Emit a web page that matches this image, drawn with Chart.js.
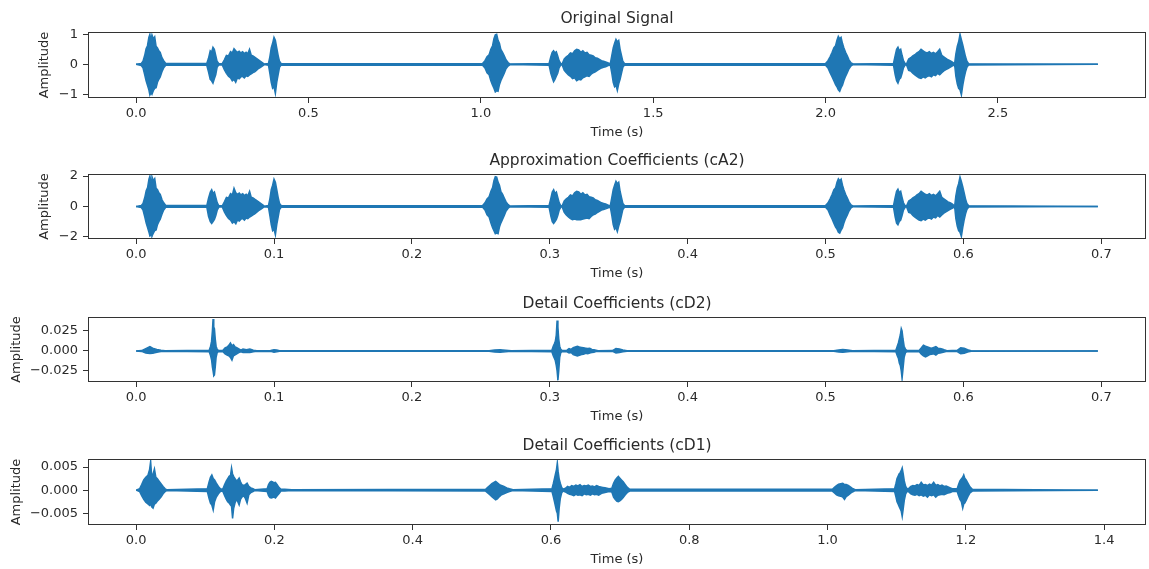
<!DOCTYPE html>
<html>
<head>
<meta charset="utf-8">
<title>Wavelet decomposition</title>
<script src="https://cdn.jsdelivr.net/npm/chart.js@4.4.0/dist/chart.umd.min.js"></script>
<style>
  body { margin: 0; background: #fff; }
  .panel { position: absolute; left: 0; width: 1149px; }
</style>
</head>
<body>
<div class="panel" style="top:0;height:142px"><canvas id="origChart"></canvas></div>
<div class="panel" style="top:142px;height:141px"><canvas id="ca2Chart"></canvas></div>
<div class="panel" style="top:285px;height:141px"><canvas id="cd2Chart"></canvas></div>
<div class="panel" style="top:427px;height:142px"><canvas id="cd1Chart"></canvas></div>
<script>
// Envelope of each signal: time (s), upper peak and lower peak per sample
const origTime = [
  0,
  0.015, 0.020, 0.025, 0.029, 0.033, 0.037, 0.040, 0.043, 0.046, 0.050, 0.054, 0.058, 0.062, 0.066, 0.070, 0.075, 0.080, 0.086,
  0.205, 0.210, 0.215, 0.219, 0.223, 0.227, 0.231, 0.235, 0.240,
  0.250, 0.256, 0.262, 0.268, 0.274, 0.279, 0.284, 0.289, 0.294, 0.299, 0.304, 0.309, 0.314, 0.319, 0.324, 0.329, 0.334, 0.339, 0.344, 0.349, 0.355, 0.361, 0.367, 0.372,
  0.384, 0.388, 0.392, 0.396, 0.400, 0.404, 0.408, 0.412, 0.416, 0.421,
  1.005, 1.012, 1.018, 1.024, 1.029, 1.034, 1.038, 1.042, 1.046, 1.050, 1.054, 1.058, 1.063, 1.068, 1.073, 1.079, 1.085,
  1.198, 1.203, 1.207, 1.211, 1.215, 1.219, 1.223, 1.227, 1.232,
  1.236, 1.242, 1.248, 1.254, 1.260, 1.266, 1.272, 1.278, 1.284, 1.290, 1.296, 1.302, 1.308, 1.314, 1.320, 1.326, 1.332, 1.338, 1.344, 1.350, 1.356, 1.362, 1.368, 1.374,
  1.376, 1.380, 1.384, 1.388, 1.392, 1.396, 1.400, 1.404, 1.408, 1.412, 1.417,
  2.000, 2.007, 2.013, 2.019, 2.024, 2.029, 2.033, 2.037, 2.041, 2.045, 2.049, 2.053, 2.058, 2.063, 2.068, 2.074, 2.080,
  2.197, 2.202, 2.206, 2.210, 2.214, 2.218, 2.222, 2.226, 2.231,
  2.235, 2.241, 2.247, 2.253, 2.259, 2.265, 2.271, 2.277, 2.283, 2.289, 2.295, 2.301, 2.307, 2.313, 2.319, 2.325, 2.331, 2.337, 2.343, 2.349, 2.355, 2.361, 2.367, 2.373,
  2.375, 2.378, 2.382, 2.386, 2.390, 2.394, 2.398, 2.402, 2.406, 2.410, 2.415,
  2.790
];
const origUpper = [
  0,
  0.03, 0.10, 0.30, 0.52, 0.62, 0.90, 1.00, 0.80, 0.98, 0.85, 0.92, 0.60, 0.55, 0.45, 0.40, 0.22, 0.12, 0.03,
  0.03, 0.20, 0.45, 0.40, 0.57, 0.50, 0.30, 0.10, 0.02,
  0.02, 0.15, 0.30, 0.28, 0.42, 0.38, 0.52, 0.45, 0.40, 0.44, 0.38, 0.42, 0.36, 0.40, 0.35, 0.50, 0.30, 0.28, 0.24, 0.20, 0.15, 0.10, 0.05, 0.01,
  0.03, 0.25, 0.55, 0.70, 0.90, 0.80, 0.55, 0.30, 0.10, 0.02,
  0.03, 0.12, 0.25, 0.32, 0.50, 0.62, 0.85, 0.98, 1.00, 0.80, 0.70, 0.50, 0.40, 0.28, 0.15, 0.06, 0.01,
  0.03, 0.25, 0.40, 0.45, 0.38, 0.42, 0.28, 0.12, 0.02,
  0.02, 0.18, 0.25, 0.30, 0.38, 0.35, 0.45, 0.50, 0.48, 0.40, 0.45, 0.38, 0.40, 0.32, 0.30, 0.28, 0.22, 0.20, 0.16, 0.12, 0.10, 0.08, 0.05, 0.02,
  0.05, 0.30, 0.55, 0.70, 0.83, 0.75, 0.80, 0.50, 0.30, 0.10, 0.02,
  0.03, 0.12, 0.25, 0.40, 0.55, 0.62, 0.80, 0.93, 0.85, 0.90, 0.70, 0.55, 0.40, 0.28, 0.15, 0.05, 0.01,
  0.03, 0.30, 0.50, 0.57, 0.45, 0.50, 0.30, 0.12, 0.02,
  0.02, 0.18, 0.22, 0.28, 0.32, 0.38, 0.42, 0.50, 0.45, 0.40, 0.38, 0.42, 0.36, 0.40, 0.35, 0.42, 0.50, 0.30, 0.25, 0.20, 0.15, 0.12, 0.08, 0.03,
  0.08, 0.35, 0.60, 0.75, 1.00, 0.82, 0.65, 0.45, 0.25, 0.10, 0.02,
  0
];
const origLower = [
  0,
  -0.04, -0.12, -0.35, -0.55, -0.70, -0.85, -1.02, -0.95, -1.00, -0.88, -0.80, -0.78, -0.60, -0.50, -0.42, -0.25, -0.12, -0.03,
  -0.03, -0.25, -0.50, -0.55, -0.63, -0.48, -0.35, -0.10, -0.02,
  -0.02, -0.18, -0.30, -0.40, -0.45, -0.55, -0.50, -0.60, -0.45, -0.48, -0.42, -0.40, -0.45, -0.38, -0.40, -0.35, -0.32, -0.28, -0.25, -0.20, -0.14, -0.10, -0.05, -0.01,
  -0.03, -0.30, -0.60, -0.80, -0.75, -0.97, -0.60, -0.35, -0.10, -0.02,
  -0.03, -0.12, -0.28, -0.35, -0.55, -0.70, -0.80, -0.92, -0.88, -0.90, -0.68, -0.55, -0.42, -0.30, -0.15, -0.06, -0.01,
  -0.03, -0.30, -0.45, -0.58, -0.50, -0.40, -0.30, -0.12, -0.02,
  -0.02, -0.20, -0.28, -0.35, -0.40, -0.48, -0.45, -0.55, -0.50, -0.52, -0.45, -0.42, -0.38, -0.40, -0.33, -0.28, -0.25, -0.20, -0.16, -0.12, -0.10, -0.08, -0.05, -0.02,
  -0.05, -0.30, -0.60, -0.75, -0.70, -0.87, -0.65, -0.50, -0.30, -0.10, -0.02,
  -0.03, -0.12, -0.28, -0.42, -0.55, -0.68, -0.75, -0.85, -0.90, -0.78, -0.70, -0.55, -0.40, -0.28, -0.15, -0.05, -0.01,
  -0.03, -0.35, -0.55, -0.63, -0.50, -0.45, -0.30, -0.12, -0.02,
  -0.02, -0.20, -0.22, -0.30, -0.35, -0.40, -0.45, -0.47, -0.42, -0.45, -0.40, -0.38, -0.42, -0.35, -0.38, -0.30, -0.35, -0.28, -0.22, -0.18, -0.14, -0.10, -0.06, -0.02,
  -0.08, -0.40, -0.65, -0.80, -0.85, -1.02, -0.70, -0.45, -0.25, -0.10, -0.02,
  0
];

const ca2Time = [
  0,
  0.0038, 0.0050, 0.0063, 0.0073, 0.0083, 0.0093, 0.0100, 0.0108, 0.0115, 0.0125, 0.0135, 0.0145, 0.0155, 0.0165, 0.0175, 0.0188, 0.0200, 0.0215,
  0.0513, 0.0525, 0.0538, 0.0548, 0.0558, 0.0568, 0.0578, 0.0588, 0.0600,
  0.0625, 0.0640, 0.0655, 0.0670, 0.0685, 0.0698, 0.0710, 0.0723, 0.0735, 0.0748, 0.0760, 0.0773, 0.0785, 0.0798, 0.0810, 0.0823, 0.0835, 0.0848, 0.0860, 0.0873, 0.0888, 0.0903, 0.0918, 0.0930,
  0.0960, 0.0970, 0.0980, 0.0990, 0.1000, 0.1010, 0.1020, 0.1030, 0.1040, 0.1053,
  0.2513, 0.2530, 0.2545, 0.2560, 0.2573, 0.2585, 0.2595, 0.2605, 0.2615, 0.2625, 0.2635, 0.2645, 0.2658, 0.2670, 0.2683, 0.2698, 0.2713,
  0.2995, 0.3008, 0.3018, 0.3028, 0.3038, 0.3048, 0.3058, 0.3068, 0.3080,
  0.3090, 0.3105, 0.3120, 0.3135, 0.3150, 0.3165, 0.3180, 0.3195, 0.3210, 0.3225, 0.3240, 0.3255, 0.3270, 0.3285, 0.3300, 0.3315, 0.3330, 0.3345, 0.3360, 0.3375, 0.3390, 0.3405, 0.3420, 0.3435,
  0.3440, 0.3450, 0.3460, 0.3470, 0.3480, 0.3490, 0.3500, 0.3510, 0.3520, 0.3530, 0.3543,
  0.5000, 0.5018, 0.5033, 0.5048, 0.5060, 0.5073, 0.5083, 0.5093, 0.5103, 0.5113, 0.5123, 0.5133, 0.5145, 0.5158, 0.5170, 0.5185, 0.5200,
  0.5493, 0.5505, 0.5515, 0.5525, 0.5535, 0.5545, 0.5555, 0.5565, 0.5578,
  0.5588, 0.5603, 0.5618, 0.5633, 0.5648, 0.5663, 0.5678, 0.5693, 0.5708, 0.5723, 0.5738, 0.5753, 0.5768, 0.5783, 0.5798, 0.5813, 0.5828, 0.5843, 0.5858, 0.5873, 0.5888, 0.5903, 0.5918, 0.5933,
  0.5938, 0.5945, 0.5955, 0.5965, 0.5975, 0.5985, 0.5995, 0.6005, 0.6015, 0.6025, 0.6038,
  0.6975
];
const ca2Upper = [
  0,
  0.06, 0.20, 0.60, 1.04, 1.24, 1.80, 2.00, 1.60, 1.96, 1.70, 1.84, 1.20, 1.10, 0.90, 0.80, 0.44, 0.24, 0.06,
  0.06, 0.55, 0.95, 1.10, 0.85, 0.95, 0.60, 0.25, 0.04,
  0.04, 0.30, 0.60, 0.56, 0.84, 0.76, 1.20, 0.90, 0.80, 0.88, 0.76, 0.84, 0.72, 0.80, 0.70, 1.00, 0.60, 0.56, 0.48, 0.40, 0.30, 0.20, 0.10, 0.02,
  0.06, 0.50, 1.10, 1.40, 1.80, 1.60, 1.10, 0.60, 0.20, 0.04,
  0.06, 0.24, 0.50, 0.64, 1.00, 1.24, 1.70, 1.96, 1.94, 1.60, 1.40, 1.00, 0.80, 0.56, 0.30, 0.12, 0.02,
  0.06, 0.55, 0.95, 1.10, 0.85, 0.95, 0.60, 0.25, 0.04,
  0.04, 0.36, 0.50, 0.60, 0.76, 0.70, 0.90, 1.00, 0.96, 0.80, 0.90, 0.76, 0.80, 0.64, 0.60, 0.56, 0.44, 0.40, 0.32, 0.24, 0.20, 0.16, 0.10, 0.04,
  0.10, 0.60, 1.10, 1.40, 1.66, 1.50, 1.60, 1.00, 0.60, 0.20, 0.04,
  0.06, 0.24, 0.50, 0.80, 1.10, 1.24, 1.60, 1.82, 1.70, 1.80, 1.40, 1.10, 0.80, 0.56, 0.30, 0.10, 0.02,
  0.06, 0.60, 1.00, 1.14, 0.90, 1.00, 0.60, 0.24, 0.04,
  0.04, 0.36, 0.44, 0.56, 0.64, 0.76, 0.84, 1.00, 0.90, 0.80, 0.76, 0.84, 0.72, 0.80, 0.70, 0.84, 1.00, 0.60, 0.50, 0.40, 0.30, 0.24, 0.16, 0.06,
  0.16, 0.70, 1.20, 1.50, 1.94, 1.64, 1.30, 0.90, 0.50, 0.20, 0.04,
  0
];
const ca2Lower = [
  0,
  -0.08, -0.24, -0.70, -1.10, -1.40, -1.70, -1.95, -1.90, -1.95, -1.76, -1.60, -1.56, -1.20, -1.00, -0.84, -0.50, -0.24, -0.06,
  -0.06, -0.65, -1.00, -1.12, -1.00, -0.85, -0.60, -0.25, -0.04,
  -0.04, -0.36, -0.60, -0.80, -0.90, -1.10, -1.00, -1.15, -0.90, -0.96, -0.84, -0.80, -0.90, -0.76, -0.80, -0.70, -0.64, -0.56, -0.50, -0.40, -0.28, -0.20, -0.10, -0.02,
  -0.06, -0.60, -1.20, -1.60, -1.50, -1.88, -1.20, -0.70, -0.20, -0.04,
  -0.06, -0.24, -0.56, -0.70, -1.10, -1.40, -1.60, -1.80, -1.76, -1.80, -1.36, -1.10, -0.84, -0.60, -0.30, -0.12, -0.02,
  -0.06, -0.65, -1.00, -1.12, -1.00, -0.85, -0.60, -0.25, -0.04,
  -0.04, -0.40, -0.56, -0.70, -0.80, -0.88, -0.84, -0.88, -0.86, -0.88, -0.84, -0.80, -0.76, -0.80, -0.66, -0.56, -0.50, -0.40, -0.32, -0.24, -0.20, -0.16, -0.10, -0.04,
  -0.10, -0.60, -1.20, -1.50, -1.40, -1.66, -1.30, -1.00, -0.60, -0.20, -0.04,
  -0.06, -0.24, -0.56, -0.84, -1.10, -1.36, -1.50, -1.70, -1.76, -1.56, -1.40, -1.10, -0.80, -0.56, -0.30, -0.10, -0.02,
  -0.06, -0.70, -1.10, -1.21, -1.00, -0.90, -0.60, -0.24, -0.04,
  -0.04, -0.40, -0.44, -0.60, -0.70, -0.80, -0.90, -0.94, -0.84, -0.90, -0.80, -0.76, -0.84, -0.70, -0.76, -0.60, -0.70, -0.56, -0.44, -0.36, -0.28, -0.20, -0.12, -0.04,
  -0.16, -0.80, -1.30, -1.60, -1.70, -1.98, -1.40, -0.90, -0.50, -0.20, -0.04,
  0
];

const cd2Time = [
  0,
  0.004, 0.007, 0.010, 0.012, 0.015, 0.018, 0.021,
  0.0530, 0.0540, 0.0547, 0.0553, 0.0558, 0.0563, 0.0568, 0.0574, 0.0580, 0.0588, 0.0598,
  0.0630, 0.0645, 0.0660, 0.0672, 0.0684, 0.0695, 0.0706, 0.0718, 0.0730, 0.0745, 0.0760,
  0.0775, 0.0800, 0.0825, 0.0850, 0.0875,
  0.0975, 0.1000, 0.1020, 0.1040,
  0.2560, 0.2600, 0.2640, 0.2680, 0.2720,
  0.3015, 0.3025, 0.3033, 0.3040, 0.3047, 0.3053, 0.3059, 0.3065, 0.3072, 0.3080, 0.3090,
  0.3125, 0.3140, 0.3155, 0.3170, 0.3185, 0.3200, 0.3215, 0.3230, 0.3245, 0.3260, 0.3275, 0.3290, 0.3305, 0.3320, 0.3335, 0.3350,
  0.3455, 0.3480, 0.3505, 0.3530, 0.3560,
  0.5060, 0.5095, 0.5125, 0.5160, 0.5195,
  0.5510, 0.5520, 0.5528, 0.5535, 0.5542, 0.5549, 0.5555, 0.5562, 0.5570, 0.5580, 0.5592,
  0.5680, 0.5695, 0.5710, 0.5725, 0.5740, 0.5755, 0.5770, 0.5785, 0.5800, 0.5815, 0.5830, 0.5845, 0.5860, 0.5880,
  0.5955, 0.5980, 0.6005, 0.6030, 0.6055,
  0.6975
];
const cd2Upper = [
  0,
  0.0005, 0.0030, 0.0055, 0.0035, 0.0020, 0.0008, 0.0002,
  0.0010, 0.0060, 0.0120, 0.0250, 0.0400, 0.0300, 0.0280, 0.0150, 0.0060, 0.0020, 0.0005,
  0.0010, 0.0040, 0.0050, 0.0070, 0.0100, 0.0065, 0.0080, 0.0050, 0.0040, 0.0025, 0.0010,
  0.0025, 0.0015, 0.0025, 0.0010, 0.0004,
  0.0005, 0.0015, 0.0012, 0.0003,
  0.0004, 0.0012, 0.0015, 0.0010, 0.0003,
  0.0010, 0.0060, 0.0090, 0.0120, 0.0200, 0.0380, 0.0300, 0.0150, 0.0060, 0.0020, 0.0005,
  0.0010, 0.0030, 0.0020, 0.0040, 0.0050, 0.0058, 0.0050, 0.0045, 0.0040, 0.0035, 0.0030, 0.0035, 0.0020, 0.0015, 0.0010, 0.0003,
  0.0005, 0.0030, 0.0025, 0.0012, 0.0002,
  0.0003, 0.0012, 0.0018, 0.0012, 0.0003,
  0.0010, 0.0060, 0.0100, 0.0150, 0.0200, 0.0280, 0.0250, 0.0150, 0.0060, 0.0020, 0.0005,
  0.0010, 0.0040, 0.0072, 0.0060, 0.0050, 0.0040, 0.0035, 0.0045, 0.0055, 0.0035, 0.0030, 0.0025, 0.0015, 0.0003,
  0.0008, 0.0040, 0.0035, 0.0015, 0.0003,
  0
];
const cd2Lower = [
  0,
  -0.0005, -0.0025, -0.0033, -0.0030, -0.0015, -0.0006, -0.0002,
  -0.0010, -0.0060, -0.0110, -0.0200, -0.0250, -0.0310, -0.0300, -0.0200, -0.0080, -0.0020, -0.0005,
  -0.0010, -0.0035, -0.0050, -0.0060, -0.0080, -0.0115, -0.0060, -0.0050, -0.0035, -0.0020, -0.0010,
  -0.0020, -0.0015, -0.0020, -0.0010, -0.0004,
  -0.0005, -0.0015, -0.0010, -0.0003,
  -0.0004, -0.0012, -0.0015, -0.0010, -0.0003,
  -0.0010, -0.0060, -0.0090, -0.0120, -0.0180, -0.0250, -0.0365, -0.0250, -0.0080, -0.0020, -0.0005,
  -0.0010, -0.0025, -0.0020, -0.0045, -0.0055, -0.0062, -0.0055, -0.0045, -0.0040, -0.0030, -0.0035, -0.0025, -0.0020, -0.0015, -0.0008, -0.0003,
  -0.0005, -0.0025, -0.0020, -0.0010, -0.0002,
  -0.0003, -0.0012, -0.0015, -0.0010, -0.0003,
  -0.0010, -0.0060, -0.0090, -0.0150, -0.0180, -0.0250, -0.0345, -0.0220, -0.0080, -0.0020, -0.0005,
  -0.0010, -0.0040, -0.0060, -0.0075, -0.0060, -0.0045, -0.0040, -0.0035, -0.0050, -0.0030, -0.0025, -0.0020, -0.0012, -0.0003,
  -0.0008, -0.0035, -0.0030, -0.0012, -0.0003,
  0
];

const cd1Time = [
  0,
  0.0050, 0.0080, 0.0110, 0.0140, 0.0170, 0.0195, 0.0210, 0.0225, 0.0245, 0.0265, 0.0285, 0.0305, 0.0330, 0.0360, 0.0390, 0.0420, 0.0440,
  0.1030, 0.1055, 0.1075, 0.1095, 0.1115, 0.1135, 0.1160, 0.1190, 0.1225,
  0.1255, 0.1280, 0.1305, 0.1325, 0.1345, 0.1365, 0.1380, 0.1395, 0.1410, 0.1430, 0.1450, 0.1470, 0.1490, 0.1510, 0.1530, 0.1555, 0.1580, 0.1605, 0.1630, 0.1660, 0.1690, 0.1715,
  0.1895, 0.1915, 0.1935, 0.1955, 0.1975, 0.1995, 0.2015, 0.2040, 0.2065, 0.2095, 0.2150, 0.2250,
  0.5055, 0.5085, 0.5115, 0.5145, 0.5175, 0.5200, 0.5225, 0.5255, 0.5285, 0.5320, 0.5360, 0.5400, 0.5450,
  0.6015, 0.6035, 0.6050, 0.6065, 0.6080, 0.6092, 0.6104, 0.6118, 0.6135, 0.6155, 0.6175,
  0.6210, 0.6240, 0.6270, 0.6300, 0.6330, 0.6360, 0.6390, 0.6420, 0.6450, 0.6480, 0.6510, 0.6540, 0.6570, 0.6600, 0.6630, 0.6660, 0.6690, 0.6720, 0.6750, 0.6780, 0.6810, 0.6840,
  0.6880, 0.6905, 0.6930, 0.6955, 0.6975, 0.6995, 0.7020, 0.7045, 0.7075, 0.7105, 0.7140,
  1.0070, 1.0100, 1.0130, 1.0160, 1.0190, 1.0220, 1.0245, 1.0270, 1.0300, 1.0330, 1.0360, 1.0400,
  1.0970, 1.0990, 1.1005, 1.1020, 1.1035, 1.1050, 1.1065, 1.1080, 1.1095, 1.1110, 1.1130, 1.1155,
  1.1175, 1.1205, 1.1235, 1.1265, 1.1295, 1.1325, 1.1355, 1.1385, 1.1415, 1.1445, 1.1475, 1.1505, 1.1535, 1.1565, 1.1595, 1.1625, 1.1655, 1.1685, 1.1715, 1.1745, 1.1775, 1.1805,
  1.1875, 1.1895, 1.1915, 1.1935, 1.1955, 1.1970, 1.1985, 1.2005, 1.2030, 1.2060, 1.2095,
  1.391
];
const cd1Upper = [
  0,
  0.0003, 0.0012, 0.0022, 0.0028, 0.0032, 0.0045, 0.0062, 0.0030, 0.0035, 0.0046, 0.0028, 0.0025, 0.0020, 0.0014, 0.0008, 0.0003, 0.0001,
  0.0003, 0.0018, 0.0028, 0.0033, 0.0025, 0.0022, 0.0015, 0.0008, 0.0002,
  0.0003, 0.0012, 0.0020, 0.0025, 0.0030, 0.0032, 0.0048, 0.0035, 0.0030, 0.0025, 0.0020, 0.0022, 0.0026, 0.0018, 0.0012, 0.0010, 0.0012, 0.0015, 0.0008, 0.0005, 0.0003, 0.0001,
  0.0003, 0.0012, 0.0017, 0.0019, 0.0018, 0.0016, 0.0017, 0.0012, 0.0006, 0.0002, 0.0002, 0.0001,
  0.0002, 0.0006, 0.0010, 0.0014, 0.0017, 0.0019, 0.0016, 0.0012, 0.0010, 0.0008, 0.0005, 0.0003, 0.0001,
  0.0003, 0.0015, 0.0025, 0.0035, 0.0045, 0.0059, 0.0040, 0.0025, 0.0015, 0.0006, 0.0002,
  0.0004, 0.0008, 0.0006, 0.0010, 0.0008, 0.0011, 0.0009, 0.0012, 0.0008, 0.0010, 0.0009, 0.0011, 0.0008, 0.0009, 0.0007, 0.0010, 0.0008, 0.0007, 0.0006, 0.0005, 0.0004, 0.0003,
  0.0004, 0.0015, 0.0022, 0.0027, 0.0030, 0.0026, 0.0022, 0.0018, 0.0012, 0.0006, 0.0002,
  0.0002, 0.0006, 0.0010, 0.0013, 0.0014, 0.0015, 0.0012, 0.0012, 0.0010, 0.0007, 0.0004, 0.0001,
  0.0003, 0.0015, 0.0025, 0.0030, 0.0035, 0.0038, 0.0042, 0.0048, 0.0035, 0.0020, 0.0008, 0.0002,
  0.0004, 0.0008, 0.0010, 0.0009, 0.0012, 0.0010, 0.0017, 0.0011, 0.0012, 0.0010, 0.0013, 0.0011, 0.0017, 0.0010, 0.0012, 0.0009, 0.0011, 0.0008, 0.0009, 0.0007, 0.0005, 0.0003,
  0.0003, 0.0012, 0.0020, 0.0024, 0.0028, 0.0033, 0.0026, 0.0022, 0.0015, 0.0007, 0.0002,
  0
];
const cd1Lower = [
  0,
  -0.0003, -0.0012, -0.0020, -0.0026, -0.0030, -0.0033, -0.0030, -0.0036, -0.0039, -0.0030, -0.0028, -0.0024, -0.0020, -0.0015, -0.0008, -0.0003, -0.0001,
  -0.0003, -0.0018, -0.0028, -0.0032, -0.0043, -0.0025, -0.0015, -0.0008, -0.0002,
  -0.0003, -0.0012, -0.0020, -0.0025, -0.0028, -0.0032, -0.0035, -0.0061, -0.0040, -0.0028, -0.0020, -0.0025, -0.0032, -0.0020, -0.0015, -0.0012, -0.0018, -0.0028, -0.0010, -0.0005, -0.0003, -0.0001,
  -0.0003, -0.0012, -0.0016, -0.0017, -0.0016, -0.0015, -0.0017, -0.0012, -0.0008, -0.0002, -0.0002, -0.0001,
  -0.0002, -0.0006, -0.0010, -0.0014, -0.0018, -0.0021, -0.0019, -0.0014, -0.0010, -0.0008, -0.0005, -0.0003, -0.0001,
  -0.0003, -0.0015, -0.0025, -0.0035, -0.0045, -0.0050, -0.0068, -0.0040, -0.0018, -0.0006, -0.0002,
  -0.0004, -0.0007, -0.0009, -0.0010, -0.0012, -0.0009, -0.0011, -0.0010, -0.0012, -0.0008, -0.0010, -0.0009, -0.0011, -0.0008, -0.0010, -0.0009, -0.0011, -0.0008, -0.0006, -0.0005, -0.0004, -0.0003,
  -0.0004, -0.0015, -0.0020, -0.0024, -0.0025, -0.0023, -0.0020, -0.0016, -0.0010, -0.0005, -0.0002,
  -0.0002, -0.0006, -0.0010, -0.0012, -0.0013, -0.0015, -0.0020, -0.0014, -0.0011, -0.0007, -0.0004, -0.0001,
  -0.0003, -0.0015, -0.0025, -0.0030, -0.0035, -0.0040, -0.0045, -0.0057, -0.0040, -0.0022, -0.0008, -0.0002,
  -0.0004, -0.0008, -0.0010, -0.0011, -0.0009, -0.0012, -0.0010, -0.0013, -0.0011, -0.0015, -0.0010, -0.0012, -0.0010, -0.0015, -0.0011, -0.0010, -0.0009, -0.0010, -0.0008, -0.0006, -0.0005, -0.0003,
  -0.0003, -0.0012, -0.0020, -0.0025, -0.0039, -0.0030, -0.0028, -0.0022, -0.0014, -0.0006, -0.0002,
  0
];

// Tick positions and their printed labels
const origXTicks = [0, 0.5, 1.0, 1.5, 2.0, 2.5];
const origXLabels = ['0.0', '0.5', '1.0', '1.5', '2.0', '2.5'];
const halfXTicks = [0, 0.1, 0.2, 0.3, 0.4, 0.5, 0.6, 0.7];
const halfXLabels = ['0.0', '0.1', '0.2', '0.3', '0.4', '0.5', '0.6', '0.7'];
const cd1XTicks = [0, 0.2, 0.4, 0.6, 0.8, 1.0, 1.2, 1.4];
const cd1XLabels = ['0.0', '0.2', '0.4', '0.6', '0.8', '1.0', '1.2', '1.4'];
const origYTicks = [-1, 0, 1];
const origYLabels = ['\u22121', '0', '1'];
const ca2YTicks = [-2, 0, 2];
const ca2YLabels = ['\u22122', '0', '2'];
const cd2YTicks = [-0.025, 0, 0.025];
const cd2YLabels = ['\u22120.025', '0.000', '0.025'];
const cd1YTicks = [-0.005, 0, 0.005];
const cd1YLabels = ['\u22120.005', '0.000', '0.005'];

const lineColor = '#1f77b4';
const textColor = '#2a2a2a';
const axisColor = '#333333';
const fontFamily = "'DejaVu Sans', sans-serif";
const plotLeft = 88;

function toPoints(times, values) {
    return times.map((t, i) => ({ x: t, y: values[i] }));
}

// box around the plotting area, like a full set of spines
const framePlugin = {
    id: 'frame',
    afterDraw(chart) {
        const a = chart.chartArea;
        const ctx = chart.ctx;
        ctx.save();
        ctx.strokeStyle = axisColor;
        ctx.lineWidth = 1;
        const l = Math.round(a.left) + 0.5, t = Math.round(a.top) + 0.5;
        const r = Math.round(a.right) - 0.5, b = Math.round(a.bottom) - 0.5;
        ctx.strokeRect(l, t, r - l, b - t);
        ctx.restore();
    }
};

function drawPanel(p) {
    new Chart(document.getElementById(p.id), {
        type: 'line',
        data: {
            datasets: [
                {
                    data: toPoints(p.time, p.upper),
                    borderColor: lineColor,
                    backgroundColor: lineColor,
                    borderWidth: 1.5,
                    pointRadius: 0,
                    fill: '+1'
                },
                {
                    data: toPoints(p.time, p.lower),
                    borderColor: lineColor,
                    borderWidth: 1.5,
                    pointRadius: 0,
                    fill: false
                }
            ]
        },
        options: {
            responsive: true,
            maintainAspectRatio: false,
            animation: false,
            events: [],
            layout: { padding: { left: p.padLeft, right: 3, top: 0, bottom: 0 } },
            plugins: {
                legend: { display: false },
                tooltip: { enabled: false }
            },
            scales: {
                x: {
                    type: 'linear',
                    min: p.xMin,
                    max: p.xMax,
                    afterBuildTicks: s => { s.ticks = p.xTicks.map(v => ({ value: v })); },
                    afterFit: s => { s.height = 44; },
                    ticks: {
                        callback: (v, i) => p.xLabels[i],
                        autoSkip: false,
                        maxRotation: 0,
                        padding: 3,
                        color: textColor,
                        font: { family: fontFamily, size: 13 }
                    },
                    grid: { drawOnChartArea: false, drawTicks: true, tickLength: 5, tickColor: axisColor, color: axisColor },
                    border: { display: false },
                    title: {
                        display: true,
                        text: 'Time (s)',
                        color: textColor,
                        font: { family: fontFamily, size: 13 },
                        padding: { top: 0, bottom: 2 }
                    }
                },
                // top axis only carries the panel title, centred over the plot box
                heading: {
                    type: 'linear',
                    axis: 'x',
                    position: 'top',
                    min: p.xMin,
                    max: p.xMax,
                    afterFit: s => { s.height = 32; },
                    ticks: { display: false },
                    grid: { display: false, drawTicks: false },
                    border: { display: false },
                    title: {
                        display: true,
                        text: p.title,
                        color: textColor,
                        font: { family: fontFamily, size: 15.5 },
                        padding: { top: 10, bottom: 0 }
                    }
                },
                y: {
                    min: p.yMin,
                    max: p.yMax,
                    afterBuildTicks: s => { s.ticks = p.yTicks.map(v => ({ value: v })); },
                    afterFit: s => { s.width = plotLeft - p.padLeft; },
                    ticks: {
                        callback: (v, i) => p.yLabels[i],
                        autoSkip: false,
                        padding: 5,
                        color: textColor,
                        font: { family: fontFamily, size: 13 }
                    },
                    grid: { drawOnChartArea: false, drawTicks: true, tickLength: 5, tickColor: axisColor, color: axisColor },
                    border: { display: false },
                    title: {
                        display: true,
                        text: 'Amplitude',
                        color: textColor,
                        font: { family: fontFamily, size: 13 },
                        padding: { top: 0, bottom: 0 }
                    }
                }
            }
        },
        plugins: [framePlugin]
    });
}

drawPanel({
    id: 'origChart', title: 'Original Signal',
    time: origTime, upper: origUpper, lower: origLower,
    xMin: -0.1395, xMax: 2.9295, xTicks: origXTicks, xLabels: origXLabels,
    yMin: -1.123, yMax: 1.077, yTicks: origYTicks, yLabels: origYLabels,
    padLeft: 37
});
drawPanel({
    id: 'ca2Chart', title: 'Approximation Coefficients (cA2)',
    time: ca2Time, upper: ca2Upper, lower: ca2Lower,
    xMin: -0.0349, xMax: 0.7324, xTicks: halfXTicks, xLabels: halfXLabels,
    yMin: -2.15, yMax: 2.14, yTicks: ca2YTicks, yLabels: ca2YLabels,
    padLeft: 37
});
drawPanel({
    id: 'cd2Chart', title: 'Detail Coefficients (cD2)',
    time: cd2Time, upper: cd2Upper, lower: cd2Lower,
    xMin: -0.0349, xMax: 0.7324, xTicks: halfXTicks, xLabels: halfXLabels,
    yMin: -0.0388, yMax: 0.0425, yTicks: cd2YTicks, yLabels: cd2YLabels,
    padLeft: 9
});
drawPanel({
    id: 'cd1Chart', title: 'Detail Coefficients (cD1)',
    time: cd1Time, upper: cd1Upper, lower: cd1Lower,
    xMin: -0.0696, xMax: 1.4606, xTicks: cd1XTicks, xLabels: cd1XLabels,
    yMin: -0.00754, yMax: 0.00674, yTicks: cd1YTicks, yLabels: cd1YLabels,
    padLeft: 9
});
</script>
</body>
</html>
